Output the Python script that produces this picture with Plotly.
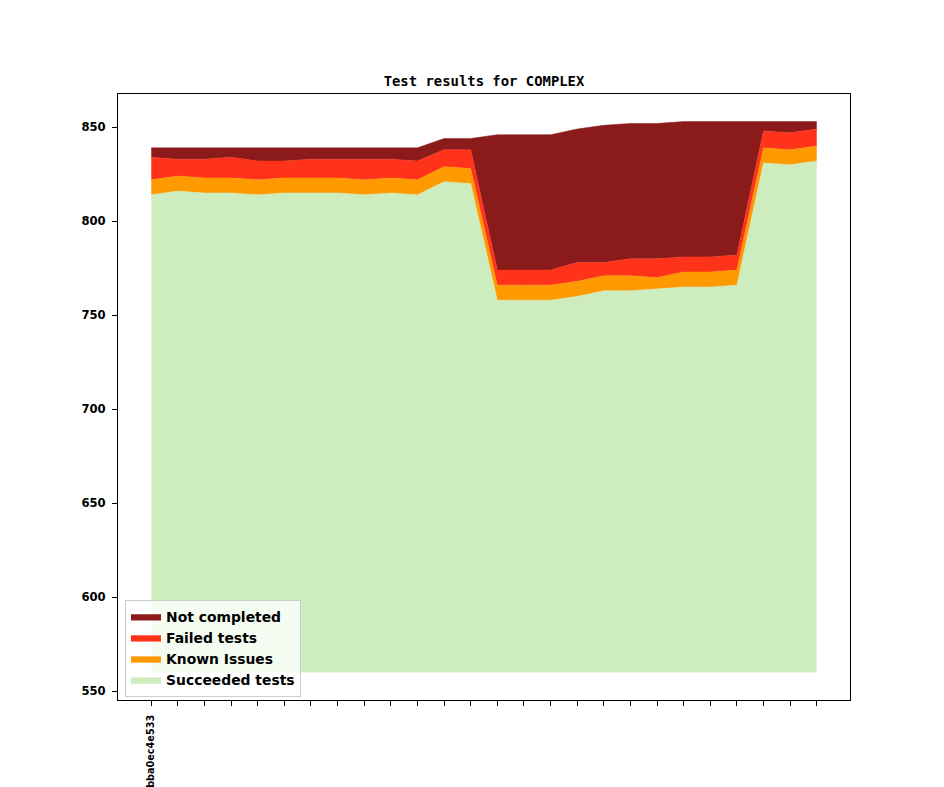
import numpy as np
import plotly.graph_objects as go

# ---- data ----
commits = ["bba0ec4e533"] + [""] * 25          # only the first tick is labelled
succeeded = [814, 816, 815, 815, 814, 815, 815, 815, 814, 815, 814, 821, 820,
             758, 758, 758, 760, 763, 763, 764, 765, 765, 766, 831, 830, 832]
known_issues = [8, 8, 8, 8, 8, 8, 8, 8, 8, 8, 8, 8, 8,
                8, 8, 8, 8, 8, 8, 6, 8, 8, 8, 8, 8, 8]
failed = [12, 9, 10, 11, 10, 9, 10, 10, 11, 10, 10, 9, 10,
          8, 8, 8, 10, 7, 9, 10, 8, 8, 8, 9, 9, 9]
not_completed = [5, 6, 6, 5, 7, 7, 6, 6, 6, 6, 7, 6, 6,
                 72, 72, 72, 71, 73, 72, 72, 72, 72, 71, 5, 6, 4]
stack_base = 560

series = [
    ("Succeeded tests", succeeded, "#CEEDBF"),
    ("Known Issues", known_issues, "#FF9900"),
    ("Failed tests", failed, "#FF3319"),
    ("Not completed", not_completed, "#8B1A1A"),
]

x = np.arange(len(commits))
fig = go.Figure()

# invisible baseline for the stack
fig.add_trace(go.Scatter(
    x=x, y=[stack_base] * len(x), mode="lines",
    line=dict(width=0, color="rgba(0,0,0,0)"),
    showlegend=False, hoverinfo="skip"))

cum = None
for name, vals, color in series:
    v = np.array(vals, dtype=float)
    cum = v if cum is None else cum + v
    fig.add_trace(go.Scatter(
        x=x, y=cum, name=name, mode="lines",
        line=dict(width=0.5, color=color),
        fill="tonexty", fillcolor=color))

top = cum.max()
span = top - stack_base
n = len(x)

# the page body adds ~8px offset; margins compensate
fig.update_layout(
    width=944, height=787,
    margin=dict(l=110, r=102, t=86, b=95),
    paper_bgcolor="white", plot_bgcolor="white",
    font=dict(family="DejaVu Sans", color="black"),
    title=dict(
        text="Test results for COMPLEX",
        x=0.5, xanchor="center", xref="paper",
        y=1 - 73 / 787, yanchor="middle",
        font=dict(family="DejaVu Sans Mono", size=13.9, weight="bold", color="black")),
    showlegend=True,
    legend=dict(
        x=0.0096, y=0.005, xanchor="left", yanchor="bottom",
        traceorder="reversed",
        bgcolor="rgba(255,255,255,0.8)", bordercolor="#cccccc", borderwidth=1,
        font=dict(family="DejaVu Sans", size=13.9, weight="bold", color="black"),
        itemwidth=30, tracegroupgap=0),
)

fig.update_xaxes(
    range=[-0.05 * (n - 1), (n - 1) * 1.05],
    tickmode="array", tickvals=x, ticktext=commits, tickangle=-90,
    ticks="outside", ticklen=5, tickwidth=1, tickcolor="black",
    tickfont=dict(family="DejaVu Sans", size=9.7, weight="bold", color="black"),
    showline=True, linecolor="black", linewidth=1, mirror=True,
    showgrid=False, zeroline=False, automargin=False, ticklabelstandoff=5)

fig.update_yaxes(
    range=[stack_base - 0.05 * span, top + 0.05 * span],
    tickmode="array", tickvals=[550, 600, 650, 700, 750, 800, 850],
    ticks="outside", ticklen=5, tickwidth=1, tickcolor="black",
    tickfont=dict(family="DejaVu Sans", size=11.6, weight="bold", color="black"),
    showline=True, linecolor="black", linewidth=1, mirror=True,
    showgrid=False, zeroline=False, automargin=False, ticklabelstandoff=4)

fig.write_html("out.html")
